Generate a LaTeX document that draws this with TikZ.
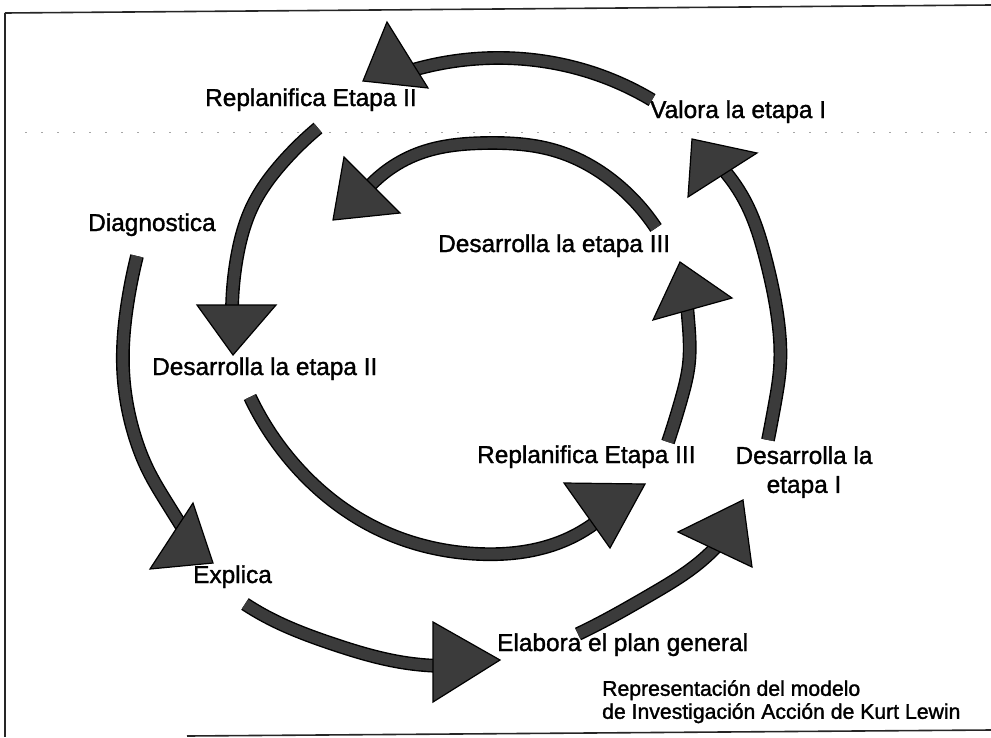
\documentclass[tikz,border=0pt]{standalone}
\usepackage{fontspec}
\setmainfont[FakeBold=1.4]{Liberation Sans}
\usetikzlibrary{hobby}
\definecolor{ink}{gray}{0.23}
\begin{document}
\begin{tikzpicture}[x=1pt,y=-1pt,
  shaft/.style={draw=black, line width=1.4pt, double=ink, double distance=11pt, line cap=butt, use Hobby shortcut},
  head/.style={fill=ink, draw=black, line width=1.2pt, line join=miter},
  lbl/.style={font=\fontsize{24.4}{29}\selectfont, inner sep=0pt, anchor=base west},
  capt/.style={font=\fontsize{21.2}{23}\selectfont, inner sep=0pt, align=left, anchor=north west},
  frame/.style={draw=black!85, line width=1.6pt},
  scanline/.style={draw=black!35, line width=0.8pt, dash pattern=on 2pt off 14pt}]
\useasboundingbox (0,0) rectangle (991,737);

% frame
\coordinate (f1) at (5,13);
\coordinate (f2) at (991,5);
\coordinate (f3) at (5,737);
\coordinate (f4) at (187,736);
\coordinate (f5) at (991,730);
\draw[frame] (f1) -- (f2);
\draw[frame, line width=1.1pt] (f1) -- (f3);
\draw[frame] (f4) -- (f5);
\coordinate (s1) at (25,132);
\coordinate (s2) at (991,132);
\draw[scanline] (s1) -- (s2);

% labels
\node[lbl] (rep2) at (205,106) {Replanifica Etapa II};
\node[lbl] (val1) at (650,118) {Valora la etapa I};
\node[lbl] (diag) at (88,231) {Diagnostica};
\node[lbl] (des3) at (438,252) {Desarrolla la etapa III};
\node[lbl] (des2) at (152,375) {Desarrolla la etapa II};
\node[lbl] (rep3) at (477,463) {Replanifica Etapa III};
\node[font=\fontsize{24.4}{29}\selectfont, inner sep=0pt, align=center, anchor=north] (des1) at (804,446) {Desarrolla la\\etapa I};
\node[lbl] (expl) at (193,583) {Explica};
\node[lbl] (elab) at (497,651) {Elabora el plan general};
\node[capt] (cap) at (602,680) {Representación del modelo\\de Investigación Acción de Kurt Lewin};

% --- shafts (centre lines) ---
% I: Diagnostica -> Explica
\coordinate (i0) at (137,256); \coordinate (i1) at (128,300); \coordinate (i2) at (123,367);
\coordinate (i3) at (135,437); \coordinate (i4) at (148,470); \coordinate (i5) at (167,503); \coordinate (i6) at (182,527);
\draw[shaft] (i0) .. (i1) .. (i2) .. (i3) .. (i4) .. (i5) .. (i6);
% G: Explica -> Elabora
\coordinate (g0) at (245,604); \coordinate (g1) at (267,617); \coordinate (g2) at (333,644);
\coordinate (g3) at (400,662); \coordinate (g4) at (450,666);
\draw[shaft] (g0) .. (g1) .. (g2) .. (g3) .. (g4);
% H: Elabora -> Desarrolla la etapa I
\coordinate (h0) at (578,634); \coordinate (h1) at (600,623); \coordinate (h2) at (650,595);
\coordinate (h3) at (700,562); \coordinate (h4) at (716,547);
\draw[shaft] (h0) .. (h1) .. (h2) .. (h3) .. (h4);
% F: Desarrolla la etapa I -> Valora
\coordinate (fa) at (768,440); \coordinate (fb) at (775,403); \coordinate (fc) at (780,367);
\coordinate (fd) at (778,320); \coordinate (fe) at (766,260); \coordinate (ff) at (747,205); \coordinate (fg) at (722,168);
\draw[shaft] (fa) .. (fb) .. (fc) .. (fd) .. (fe) .. (ff) .. (fg);
% A: Valora -> Replanifica Etapa II
\coordinate (a0) at (652,100); \coordinate (a1) at (593,73); \coordinate (a2) at (493,58);
\coordinate (a3) at (403,73);
\draw[shaft] (a0) .. (a1) .. (a2) .. (a3);
% B: Replanifica Etapa II -> Desarrolla la etapa II
\coordinate (b0) at (318,128); \coordinate (b1) at (283,162); \coordinate (b2) at (253,205);
\coordinate (b3) at (237,257); \coordinate (b4) at (232,318);
\draw[shaft] (b0) .. (b1) .. (b2) .. (b3) .. (b4);
% D: Desarrolla la etapa II -> Replanifica Etapa III
\coordinate (d0) at (250,397); \coordinate (d1) at (293,463); \coordinate (d2) at (380,530);
\coordinate (d3) at (480,554); \coordinate (d4) at (563,541); \coordinate (d5) at (606,514);
\draw[shaft] (d0) .. (d1) .. (d2) .. (d3) .. (d4) .. (d5);
% E: Replanifica Etapa III -> Desarrolla la etapa III
\coordinate (e0) at (668,442); \coordinate (e1) at (681,400); \coordinate (e2) at (689,363);
\coordinate (e3) at (688,317); \coordinate (e4) at (686,293);
\draw[shaft] (e0) .. (e1) .. (e2) .. (e3) .. (e4);
% C: Desarrolla la etapa III -> inner top
\coordinate (c0) at (656,228); \coordinate (c1) at (620,187); \coordinate (c2) at (553,150);
\coordinate (c3) at (487,143); \coordinate (c4) at (420,153); \coordinate (c5) at (366,190);
\draw[shaft] (c0) .. (c1) .. (c2) .. (c3) .. (c4) .. (c5);

% --- heads ---
\coordinate (tI1) at (193,503); \coordinate (tI2) at (150,569); \coordinate (tI3) at (213,563);
\draw[head] (tI1) -- (tI2) -- (tI3) -- cycle;
\coordinate (tG1) at (433,622); \coordinate (tG2) at (433,702); \coordinate (tG3) at (500,660);
\draw[head] (tG1) -- (tG2) -- (tG3) -- cycle;
\coordinate (tH1) at (678,532); \coordinate (tH2) at (743,500); \coordinate (tH3) at (752,567);
\draw[head] (tH1) -- (tH2) -- (tH3) -- cycle;
\coordinate (tF1) at (692,139); \coordinate (tF2) at (757,153); \coordinate (tF3) at (688,197);
\draw[head] (tF1) -- (tF2) -- (tF3) -- cycle;
\coordinate (tA1) at (387,22); \coordinate (tA2) at (363,81); \coordinate (tA3) at (428,88);
\draw[head] (tA1) -- (tA2) -- (tA3) -- cycle;
\coordinate (tB1) at (197,305); \coordinate (tB2) at (276,305); \coordinate (tB3) at (233,355);
\draw[head] (tB1) -- (tB2) -- (tB3) -- cycle;
\coordinate (tD1) at (564,483); \coordinate (tD2) at (645,484); \coordinate (tD3) at (610,548);
\draw[head] (tD1) -- (tD2) -- (tD3) -- cycle;
\coordinate (tE1) at (680,262); \coordinate (tE2) at (653,320); \coordinate (tE3) at (732,298);
\draw[head] (tE1) -- (tE2) -- (tE3) -- cycle;
\coordinate (tC1) at (344,157); \coordinate (tC2) at (333,220); \coordinate (tC3) at (400,213);
\draw[head] (tC1) -- (tC2) -- (tC3) -- cycle;
\end{tikzpicture}
\end{document}
